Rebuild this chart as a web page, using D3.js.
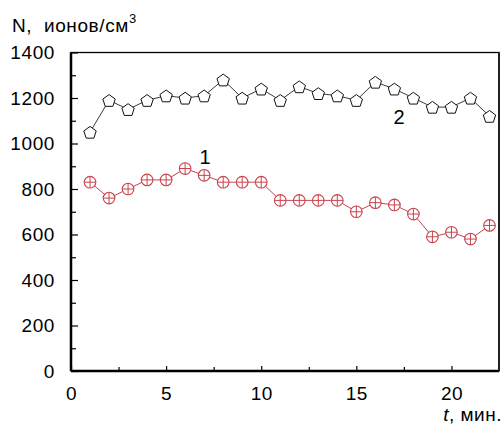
<!DOCTYPE html>
<html><head><meta charset="utf-8">
<script src="https://cdn.jsdelivr.net/npm/d3@7"></script>
<style>body{margin:0;background:#fff}svg{display:block}text{font-family:"Liberation Sans",Arial,sans-serif;fill:#000}</style>
</head><body>
<svg id="c" width="504" height="430"></svg>
<script>
const times = [1,2,3,4,5,6,7,8,9,10,11,12,13,14,15,16,17,18,19,20,21,22];
const series1 = [830,760,800,840,840,890,860,830,830,830,750,750,750,750,700,740,730,690,590,610,580,640];
const series2 = [1050,1190,1150,1190,1210,1200,1210,1280,1200,1240,1190,1250,1220,1210,1190,1270,1240,1200,1160,1160,1200,1120];
const xTicks = [0,5,10,15,20];
const yTicks = [0,200,400,600,800,1000,1200,1400];
const xMinor = [2.5,7.5,12.5,17.5];
const yMinor = [100,300,500,700,900,1100,1300];

const svg = d3.select("#c");
const L=71,R=499,T=52.5,B=371;
const x = d3.scaleLinear().domain([0,22.5]).range([L,R]);
const y = d3.scaleLinear().domain([0,1400]).range([B,T]);

// frame
svg.append("rect").attr("x",L).attr("y",T).attr("width",R-L).attr("height",B-T)
  .attr("fill","none").attr("stroke","#000").attr("stroke-width",1.3);
svg.append("line").attr("x1",L).attr("x2",L).attr("y1",T).attr("y2",B).attr("stroke","#000").attr("stroke-width",2.5);
svg.append("line").attr("x1",L).attr("x2",R).attr("y1",B).attr("y2",B).attr("stroke","#000").attr("stroke-width",2.5);
svg.append("line").attr("x1",R).attr("x2",R).attr("y1",T).attr("y2",B).attr("stroke","#222").attr("stroke-width",2);

// axes
const xa = svg.append("g").attr("transform",`translate(0,${B})`)
  .call(d3.axisBottom(x).tickValues(xTicks).tickSize(-5).tickPadding(16).tickFormat(d3.format("d")));
xa.select(".domain").remove();
xa.selectAll("text").attr("font-size",19).attr("letter-spacing",0.5).attr("dy","0.71em");
svg.append("g").attr("transform",`translate(0,${B})`)
  .call(d3.axisBottom(x).tickValues(xMinor).tickSize(-4).tickFormat(""))
  .select(".domain").remove();

const ya = svg.append("g").attr("transform",`translate(${L},0)`)
  .call(d3.axisLeft(y).tickValues(yTicks).tickSize(-7).tickPadding(16).tickFormat(d3.format("d")));
ya.select(".domain").remove();
ya.selectAll("text").attr("font-size",19).attr("letter-spacing",0.6);
svg.append("g").attr("transform",`translate(${L},0)`)
  .call(d3.axisLeft(y).tickValues(yMinor).tickSize(-5).tickFormat(""))
  .select(".domain").remove();
svg.selectAll(".tick line").attr("stroke","#000").attr("stroke-width",1.2);

// lines
const line = d3.line().x((d,i)=>x(times[i])).y(d=>y(d));
const red="#c8434d";
svg.append("path").datum(series2).attr("d",line).attr("fill","none").attr("stroke","#222").attr("stroke-width",0.9);
svg.append("path").datum(series1).attr("d",line).attr("fill","none").attr("stroke",red).attr("stroke-width",1);

// pentagon markers
const pent = d3.symbol().type({draw(ctx,size){const r=6.5;for(let k=0;k<5;k++){const a=-Math.PI/2+k*2*Math.PI/5;const px=r*Math.cos(a),py=r*Math.sin(a)+0.8;k?ctx.lineTo(px,py):ctx.moveTo(px,py);}ctx.closePath();}});
svg.append("g").selectAll("path").data(series2).join("path")
  .attr("transform",(d,i)=>`translate(${x(times[i])},${y(d)})`)
  .attr("d",pent()).attr("fill","#fff").attr("stroke","#111").attr("stroke-width",1);

const g1 = svg.append("g").selectAll("g").data(series1).join("g")
  .attr("transform",(d,i)=>`translate(${x(times[i])},${y(d)})`);
g1.append("circle").attr("r",5.8).attr("fill","#fff").attr("stroke",red).attr("stroke-width",1.1);
g1.append("path").attr("d","M-5.8,0H5.8M0,-5.8V5.8").attr("stroke",red).attr("stroke-width",1);

// labels
svg.append("text").attr("x",205).attr("y",164).attr("font-size",20).attr("text-anchor","middle").text("1");
svg.append("text").attr("x",399).attr("y",124).attr("font-size",20).attr("text-anchor","middle").text("2");

const yl = svg.append("text").attr("x",12).attr("y",32).attr("font-size",19).attr("letter-spacing",0.6).style("white-space","pre");
yl.append("tspan").text("N,  ионов/см");
yl.append("tspan").attr("font-size",13).attr("dy",-9).text("3");

const xl = svg.append("text").attr("x",502).attr("y",421).attr("font-size",19).attr("letter-spacing",0.5).attr("text-anchor","end");
xl.append("tspan").attr("font-style","italic").text("t");
xl.append("tspan").text(", мин.");
</script>
</body></html>
